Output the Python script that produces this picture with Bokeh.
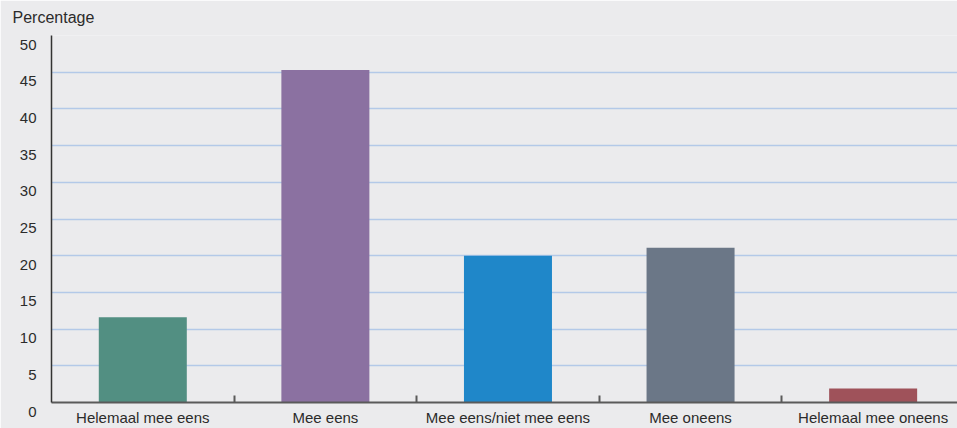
from bokeh.plotting import figure
from bokeh.models import Range1d, FixedTicker, Title
from bokeh.embed import file_html
from bokeh.resources import INLINE

categories = ["Helemaal mee eens", "Mee eens", "Mee eens/niet mee eens", "Mee oneens", "Helemaal mee oneens"]
values = [11.6, 45.3, 20.0, 21.1, 1.9]
colors = ["#528f82", "#8b71a1", "#1f87c9", "#6b7787", "#9f525a"]
y_ticks = [0, 5, 10, 15, 20, 25, 30, 35, 40, 45, 50]

bg = "#ebebed"
font = "Liberation Sans"

centers = [i + 0.5 for i in range(len(categories))]
boundaries = [i + 1 for i in range(len(categories) - 1)]

p = figure(width=957, height=428, output_backend="svg", toolbar_location=None,
           x_range=Range1d(0, 4.962), y_range=Range1d(0, 50),
           min_border_left=51, min_border_right=0, min_border_top=35, min_border_bottom=26)
p.background_fill_color = bg
p.border_fill_color = bg
p.outline_line_color = None

p.vbar(x=centers, top=values, width=0.482, color=colors, line_color=None)

# x axis
xa = p.xaxis[0]
xa.ticker = FixedTicker(ticks=centers, minor_ticks=boundaries)
xa.major_label_overrides = {c: lab for c, lab in zip(centers, categories)}
xa.major_tick_line_color = None
xa.major_tick_in = 0
xa.major_tick_out = 0
xa.minor_tick_in = 7
xa.minor_tick_out = 0
xa.minor_tick_line_color = "#5a5a5a"
xa.minor_tick_line_width = 2
xa.axis_line_color = "#5a5a5a"
xa.axis_line_width = 2
xa.major_label_text_font = font
xa.major_label_text_font_size = "15px"
xa.major_label_text_color = "#2b2b2b"
xa.major_label_standoff = 6

# y axis (labels sit just below their grid line, as in the reference)
ya = p.yaxis[0]
ya.ticker = FixedTicker(ticks=y_ticks)
ya.major_label_overrides = {t: "\n" + str(t) for t in y_ticks}
ya.major_tick_line_color = None
ya.major_tick_in = 0
ya.major_tick_out = 0
ya.minor_tick_line_color = None
ya.axis_line_color = "#333333"
ya.axis_line_width = 1.5
ya.major_label_text_font = font
ya.major_label_text_font_size = "15px"
ya.major_label_text_line_height = 1.0
ya.major_label_text_color = "#2b2b2b"
ya.major_label_standoff = 15

p.xgrid.grid_line_color = None
p.ygrid.grid_line_color = "#b3c9e8"
p.ygrid.grid_line_width = 1.5

p.add_layout(Title(text="Percentage", align="left", offset=-39, text_font=font,
                   text_font_size="16px", text_font_style="normal", text_color="#2b2b2b",
                   standoff=15, vertical_align="top"), "above")

open("out.html", "w").write(file_html(p, INLINE))
